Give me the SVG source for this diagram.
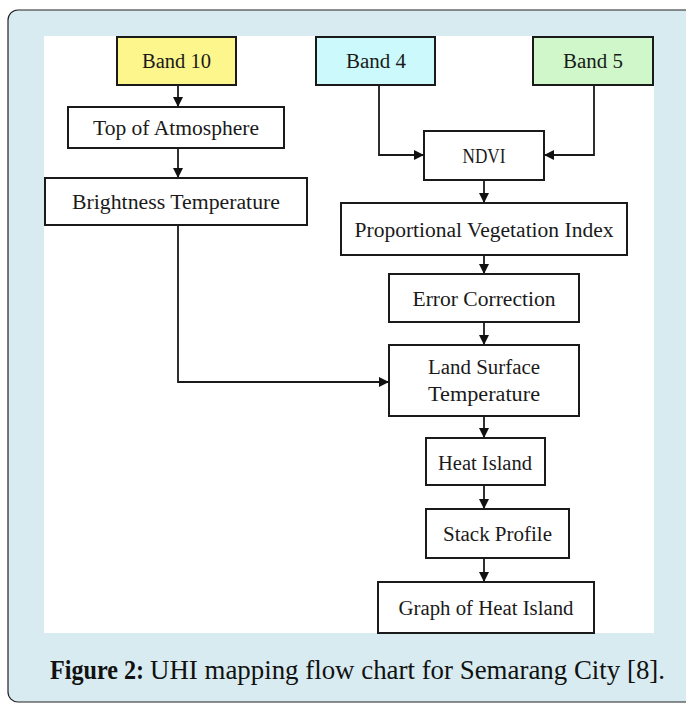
<svg xmlns="http://www.w3.org/2000/svg" width="686" height="706" viewBox="0 0 686 706">
<defs>
<marker id="ah" viewBox="0 0 10 10" refX="10" refY="5" markerWidth="10" markerHeight="10" markerUnits="userSpaceOnUse" orient="auto">
<path d="M0,0 L10,5 L0,10 z" fill="#111"/>
</marker>
<style>
.box{stroke:#1a1a1a;stroke-width:2;fill:#fff}
.t{font-family:"Liberation Serif","DejaVu Serif",serif;font-size:20px;fill:#1a1a1a;text-anchor:middle}
.c{fill:none;stroke:#1a1a1a;stroke-width:1.8;marker-end:url(#ah)}
.cap{font-family:"Liberation Serif","DejaVu Serif",serif;font-size:27px;fill:#111}
</style>
</defs>
<rect x="8" y="10" width="690" height="692" rx="10" fill="#d7ebf0" stroke="#222" stroke-width="1.2"/>
<rect x="44" y="36" width="610" height="597" fill="#ffffff"/>
<g id="connectors">
<path class="c" d="M178,85 V107"/>
<path class="c" d="M178,148 V178"/>
<path class="c" d="M379,85 V155 H424"/>
<path class="c" d="M594,85 V155 H544"/>
<path class="c" d="M484,180 V203"/>
<path class="c" d="M484,255 V274"/>
<path class="c" d="M484,322 V345"/>
<path class="c" d="M178,225 V382 H389"/>
<path class="c" d="M484,416 V438"/>
<path class="c" d="M484,485 V509"/>
<path class="c" d="M484,558 V582"/>
</g>
<g id="band10"><rect class="box" x="117" y="37" width="119" height="48" style="fill:#fdf68c"/><text class="t" x="176.5" y="68" textLength="69" lengthAdjust="spacingAndGlyphs">Band 10</text></g>
<g id="band4"><rect class="box" x="316" y="37" width="119" height="48" style="fill:#ccfafc"/><text class="t" x="376" y="68" textLength="60" lengthAdjust="spacingAndGlyphs">Band 4</text></g>
<g id="band5"><rect class="box" x="533" y="37" width="120" height="48" style="fill:#cff7c9"/><text class="t" x="593" y="68" textLength="60" lengthAdjust="spacingAndGlyphs">Band 5</text></g>
<g id="toa"><rect class="box" x="68" y="107" width="216" height="41"/><text class="t" x="176" y="135" textLength="166" lengthAdjust="spacingAndGlyphs">Top of Atmosphere</text></g>
<g id="bt"><rect class="box" x="45" y="178" width="262" height="47"/><text class="t" x="176" y="209" textLength="208" lengthAdjust="spacingAndGlyphs">Brightness Temperature</text></g>
<g id="ndvi"><rect class="box" x="424" y="131" width="120" height="49"/><text class="t" x="484" y="163" textLength="43" lengthAdjust="spacingAndGlyphs">NDVI</text></g>
<g id="pvi"><rect class="box" x="341" y="203" width="286" height="52"/><text class="t" x="484" y="237" textLength="259" lengthAdjust="spacingAndGlyphs">Proportional Vegetation Index</text></g>
<g id="ec"><rect class="box" x="389" y="274" width="190" height="48"/><text class="t" x="484" y="306" textLength="143" lengthAdjust="spacingAndGlyphs">Error Correction</text></g>
<g id="lst"><rect class="box" x="389" y="345" width="190" height="71"/><text class="t" x="484" y="374" textLength="112" lengthAdjust="spacingAndGlyphs">Land Surface</text><text class="t" x="484" y="401" textLength="112" lengthAdjust="spacingAndGlyphs">Temperature</text></g>
<g id="hi"><rect class="box" x="426" y="438" width="119" height="47"/><text class="t" x="485" y="470" textLength="94" lengthAdjust="spacingAndGlyphs">Heat Island</text></g>
<g id="sp"><rect class="box" x="426" y="509" width="143" height="49"/><text class="t" x="497.5" y="541" textLength="109" lengthAdjust="spacingAndGlyphs">Stack Profile</text></g>
<g id="graph"><rect class="box" x="378" y="582" width="216" height="51"/><text class="t" x="486" y="615" textLength="175" lengthAdjust="spacingAndGlyphs">Graph of Heat Island</text></g>
<text class="cap" x="50" y="679"><tspan font-weight="bold" textLength="94" lengthAdjust="spacingAndGlyphs">Figure 2:</tspan><tspan x="150" textLength="515" lengthAdjust="spacingAndGlyphs">UHI mapping flow chart for Semarang City [8].</tspan></text>
</svg>
